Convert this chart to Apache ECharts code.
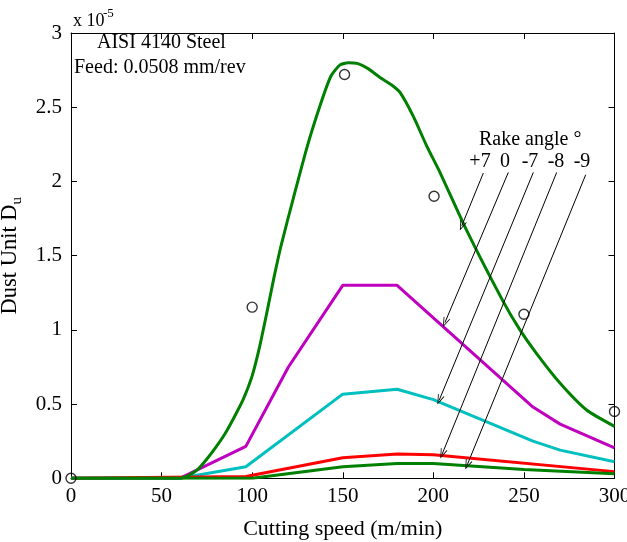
<!DOCTYPE html>
<html>
<head>
<meta charset="utf-8">
<script src="https://cdn.jsdelivr.net/npm/echarts@6/dist/echarts.min.js"></script>
<style>html,body{margin:0;padding:0;background:#fff;}#c{width:627px;height:542px;}</style>
</head>
<body>
<div id="c"></div>
<script>
// Values in units of 1e-5
const xTicks = [0, 50, 100, 150, 200, 250, 300];
const yTicks = [0, 0.5, 1, 1.5, 2, 2.5, 3];

const rakeP7 = [[0,0],[20,0],[40,0],[60,0],[65,0.02],[70,0.06],[75,0.13],[80,0.21],[85,0.30],[90,0.41],[95,0.53],[100,0.69],[104,0.88],[108,1.11],[112,1.35],[116,1.57],[123,1.90],[130.5,2.24],[138,2.53],[143.5,2.71],[148.5,2.785],[153,2.80],[158,2.795],[164,2.76],[170.6,2.70],[177,2.65],[181.6,2.60],[188.9,2.44],[196.3,2.24],[203.7,2.06],[218.4,1.67],[238.6,1.19],[247.8,1.00],[257,0.84],[270,0.64],[284.6,0.46],[300,0.35]];
const rake0  = [[0,0],[60,0],[96.5,0.215],[120,0.75],[150,1.30],[180,1.30],[255,0.48],[270,0.365],[300,0.205]];
const rakeM7 = [[0,0],[60,0],[96.5,0.078],[150,0.567],[180,0.60],[200,0.53],[255,0.25],[270,0.19],[300,0.112]];
const rakeM8 = [[0,0],[96.5,0.012],[150,0.139],[180,0.164],[200,0.158],[300,0.045]];
const rakeM9 = [[0,0],[100,0],[150,0.078],[180,0.10],[200,0.10],[250,0.06],[300,0.03]];
const measured = [[0,0],[100,1.153],[151,2.72],[200.4,1.90],[250,1.105],[300,0.45]];

// annotation arrows (data coordinates): [from, to]
const arrowFrom = [[227.6,2.057],[241.4,2.061],[255.2,2.061],[268.1,2.061],[284.1,2.045]];
const arrowTo   = [[215.7,1.701],[206.4,1.049],[203.3,0.528],[204.9,0.164],[218.7,0.090]];
const rakeLabels = ['+7','0','-7','-8','-9'];

const FONT = 'Liberation Serif';
const chart = echarts.init(document.getElementById('c'), null, {renderer:'canvas'});

function lineSeries(name, data, color){
  return {name, type:'line', data, smooth:false, symbol:'none',
    lineStyle:{color, width:3}, itemStyle:{color}, z:2, animation:false};
}

const labelX = [480, 505, 530, 556, 582];
const openArrow = 'path://M5,0 L10,10 L8.8,10 L5,2.4 L1.2,10 L0,10 Z';

chart.setOption({
  animation:false,
  grid:{left:71, top:33, right:12.5, bottom:63.7, containLabel:false, outerBoundsMode:'none'},
  xAxis:[{
    type:'value', min:0, max:300, interval:50, position:'bottom',
    name:'Cutting speed (m/min)', nameLocation:'middle', nameGap:40,
    nameTextStyle:{fontFamily:FONT, fontSize:22, color:'#000'},
    axisLine:{onZero:false, lineStyle:{color:'#000', width:1}},
    axisTick:{inside:true, length:6, lineStyle:{color:'#000'}},
    axisLabel:{fontFamily:FONT, fontSize:21, color:'#000', margin:8},
    splitLine:{show:false}
  },{
    type:'value', min:0, max:300, interval:50, position:'top',
    axisLine:{onZero:false, lineStyle:{color:'#000', width:1}},
    axisTick:{inside:true, length:6, lineStyle:{color:'#000'}},
    axisLabel:{show:false}, splitLine:{show:false}
  }],
  yAxis:[{
    type:'value', min:0, max:3, interval:0.5, position:'left',
    name:'{a|Dust Unit D}{b|u}', nameLocation:'middle', nameGap:44, nameRotate:90,
    nameTextStyle:{fontFamily:FONT, color:'#000',
      rich:{a:{fontFamily:FONT, fontSize:22.5, color:'#000', lineHeight:30, verticalAlign:'middle'},
            b:{fontFamily:FONT, fontSize:15, color:'#000', lineHeight:15, verticalAlign:'bottom'}}},
    axisLine:{onZero:false, lineStyle:{color:'#000', width:1}},
    axisTick:{inside:true, length:6, lineStyle:{color:'#000'}},
    axisLabel:{fontFamily:FONT, fontSize:21, color:'#000', margin:9},
    splitLine:{show:false}
  },{
    type:'value', min:0, max:3, interval:0.5, position:'right',
    axisLine:{onZero:false, lineStyle:{color:'#000', width:1}},
    axisTick:{inside:true, length:6, lineStyle:{color:'#000'}},
    axisLabel:{show:false}, splitLine:{show:false}
  }],
  series:[
    lineSeries('0', rake0, '#bf00bf'),
    lineSeries('-7', rakeM7, '#00bfbf'),
    lineSeries('-8', rakeM8, '#ff0000'),
    lineSeries('-9', rakeM9, '#008000'),
    Object.assign(lineSeries('+7', rakeP7, '#008000'), {smooth:0.2}),
    {
      name:'measured', type:'scatter', data:measured, symbol:'circle', symbolSize:10,
      clip:false, z:5,
      itemStyle:{color:'rgba(255,255,255,0)', borderColor:'#000', borderWidth:1.4},
      markLine:{
        silent:true, symbol:['none', openArrow], symbolSize:[7,10],
        lineStyle:{color:'#000', width:1, type:'solid'},
        label:{show:false},
        data: arrowFrom.map((f,i)=>[{coord:f},{coord:arrowTo[i]}])
      }
    }
  ],
  graphic:[
    {type:'text', left:73, top:12, style:{text:'x 10', font:'18px "Liberation Serif"', fill:'#000'}},
    {type:'text', left:103, top:7, style:{text:'-5', font:'13px "Liberation Serif"', fill:'#000'}},
    {type:'text', left:97, top:33, style:{text:'AISI 4140 Steel', font:'20px "Liberation Serif"', fill:'#000'}},
    {type:'text', left:74, top:58, style:{text:'Feed: 0.0508 mm/rev', font:'20px "Liberation Serif"', fill:'#000'}},
    {type:'text', left:479, top:130, style:{text:'Rake angle \u00b0', font:'20px "Liberation Serif"', fill:'#000'}}
  ].concat(rakeLabels.map((t,i)=>({type:'text', x:labelX[i], y:162,
      style:{text:t, font:'20px "Liberation Serif"', fill:'#000', align:'center', verticalAlign:'middle'}})))
});
</script>
</body>
</html>
